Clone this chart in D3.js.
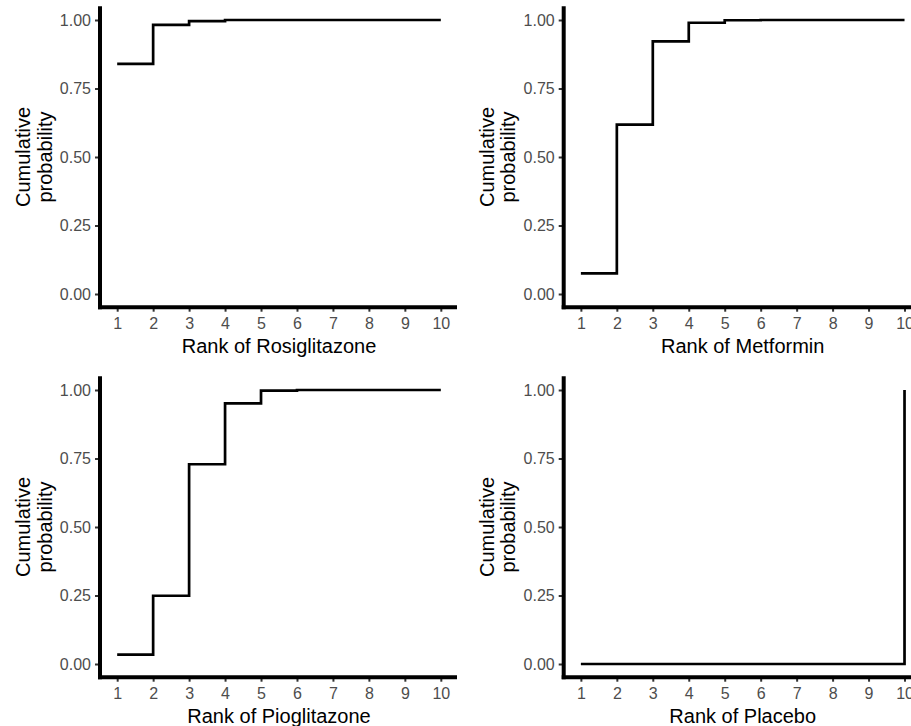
<!DOCTYPE html>
<html>
<head>
<meta charset="utf-8">
<script src="https://cdn.jsdelivr.net/npm/d3@7"></script>
<style>
    body { margin: 0; background: #fff; }
    svg { display: block; font-family: "Liberation Sans", Arial, sans-serif; }
</style>
</head>
<body>
<svg id="chart" width="911" height="726"></svg>
<script>

// ranks on the x axis
const ranks = [1, 2, 3, 4, 5, 6, 7, 8, 9, 10];
const yTicks = [0, 0.25, 0.5, 0.75, 1];

// cumulative rank probabilities
const rosiglitazone = [0.84, 0.982, 0.996, 1, 1, 1, 1, 1, 1, 1];
const metformin     = [0.075, 0.618, 0.922, 0.99, 0.999, 1, 1, 1, 1, 1];
const pioglitazone  = [0.034, 0.249, 0.729, 0.951, 0.998, 1, 1, 1, 1, 1];
const placebo       = [0, 0, 0, 0, 0, 0, 0, 0, 0, 1];

const treatments = ["Rosiglitazone", "Metformin", "Pioglitazone", "Placebo"];
const seriesList = [rosiglitazone, metformin, pioglitazone, placebo];

const svg = d3.select("#chart");
const panelW = 463.7;
const panelH = 370;
const plot = { left: 101, right: 457, top: 6.3, bottom: 307.7 };

function drawPanel(i) {
    const col = i % 2;
    const row = Math.floor(i / 2);
    const g = svg.append("g").attr("transform", `translate(${col * panelW},${row * panelH})`);
    const values = seriesList[i];

    // ggplot style expansion: 5% of the range on each side
    const xScale = d3.scaleLinear()
        .domain([1 - 0.45, 10 + 0.45])
        .range([plot.left, plot.right]);

    const yScale = d3.scaleLinear()
        .domain([-0.05, 1.05])
        .range([plot.bottom, plot.top]);

    // axes (ticks + labels), axis lines drawn separately below
    const xAxis = d3.axisBottom(xScale).tickValues(ranks).tickSize(4).tickPadding(6.3).tickFormat(d3.format("d"));
    const yAxis = d3.axisLeft(yScale).tickValues(yTicks).tickSize(5).tickPadding(4).tickFormat(d3.format(".2f"));

    const gx = g.append("g")
        .attr("transform", `translate(0,${plot.bottom})`)
        .call(xAxis);

    const gy = g.append("g")
        .attr("transform", `translate(${plot.left - 1},0)`)
        .call(yAxis);

    [gx, gy].forEach(ax => {
        ax.select(".domain").remove();
        ax.selectAll(".tick line").attr("stroke", "#333333").attr("stroke-width", 2);
        ax.selectAll(".tick text")
            .attr("fill", "#4d4d4d")
            .style("font-size", "16px")
            .style("font-family", "'Liberation Sans', Arial, sans-serif");
    });

    // thick axis lines
    g.append("line")
        .attr("x1", plot.left - 1).attr("x2", plot.left - 1)
        .attr("y1", plot.top).attr("y2", plot.bottom + 1.5)
        .attr("stroke", "#000").attr("stroke-width", 4);

    g.append("line")
        .attr("x1", plot.left - 3).attr("x2", plot.right)
        .attr("y1", plot.bottom - 0.5).attr("y2", plot.bottom - 0.5)
        .attr("stroke", "#000").attr("stroke-width", 4);

    // step curve
    const line = d3.line()
        .x((d, k) => xScale(ranks[k]))
        .y(d => yScale(d))
        .curve(d3.curveStepAfter);

    g.append("path")
        .datum(values)
        .attr("d", line)
        .attr("fill", "none")
        .attr("stroke", "#000")
        .attr("stroke-width", 2.7);

    // axis titles
    g.append("text")
        .attr("x", (plot.left + plot.right) / 2)
        .attr("y", 353)
        .attr("text-anchor", "middle")
        .style("font-size", "20px")
        .attr("fill", "#000")
        .text("Rank of " + treatments[i]);

    const cy = (plot.top + plot.bottom) / 2;
    const yTitle = g.append("text")
        .attr("transform", `translate(30,${cy}) rotate(-90)`)
        .attr("text-anchor", "middle")
        .style("font-size", "20px")
        .attr("fill", "#000");
    yTitle.append("tspan").attr("x", 0).attr("y", 0).text("Cumulative");
    yTitle.append("tspan").attr("x", 0).attr("y", 21.5).text("probability");
}

treatments.forEach((t, i) => drawPanel(i));

</script>
</body>
</html>
